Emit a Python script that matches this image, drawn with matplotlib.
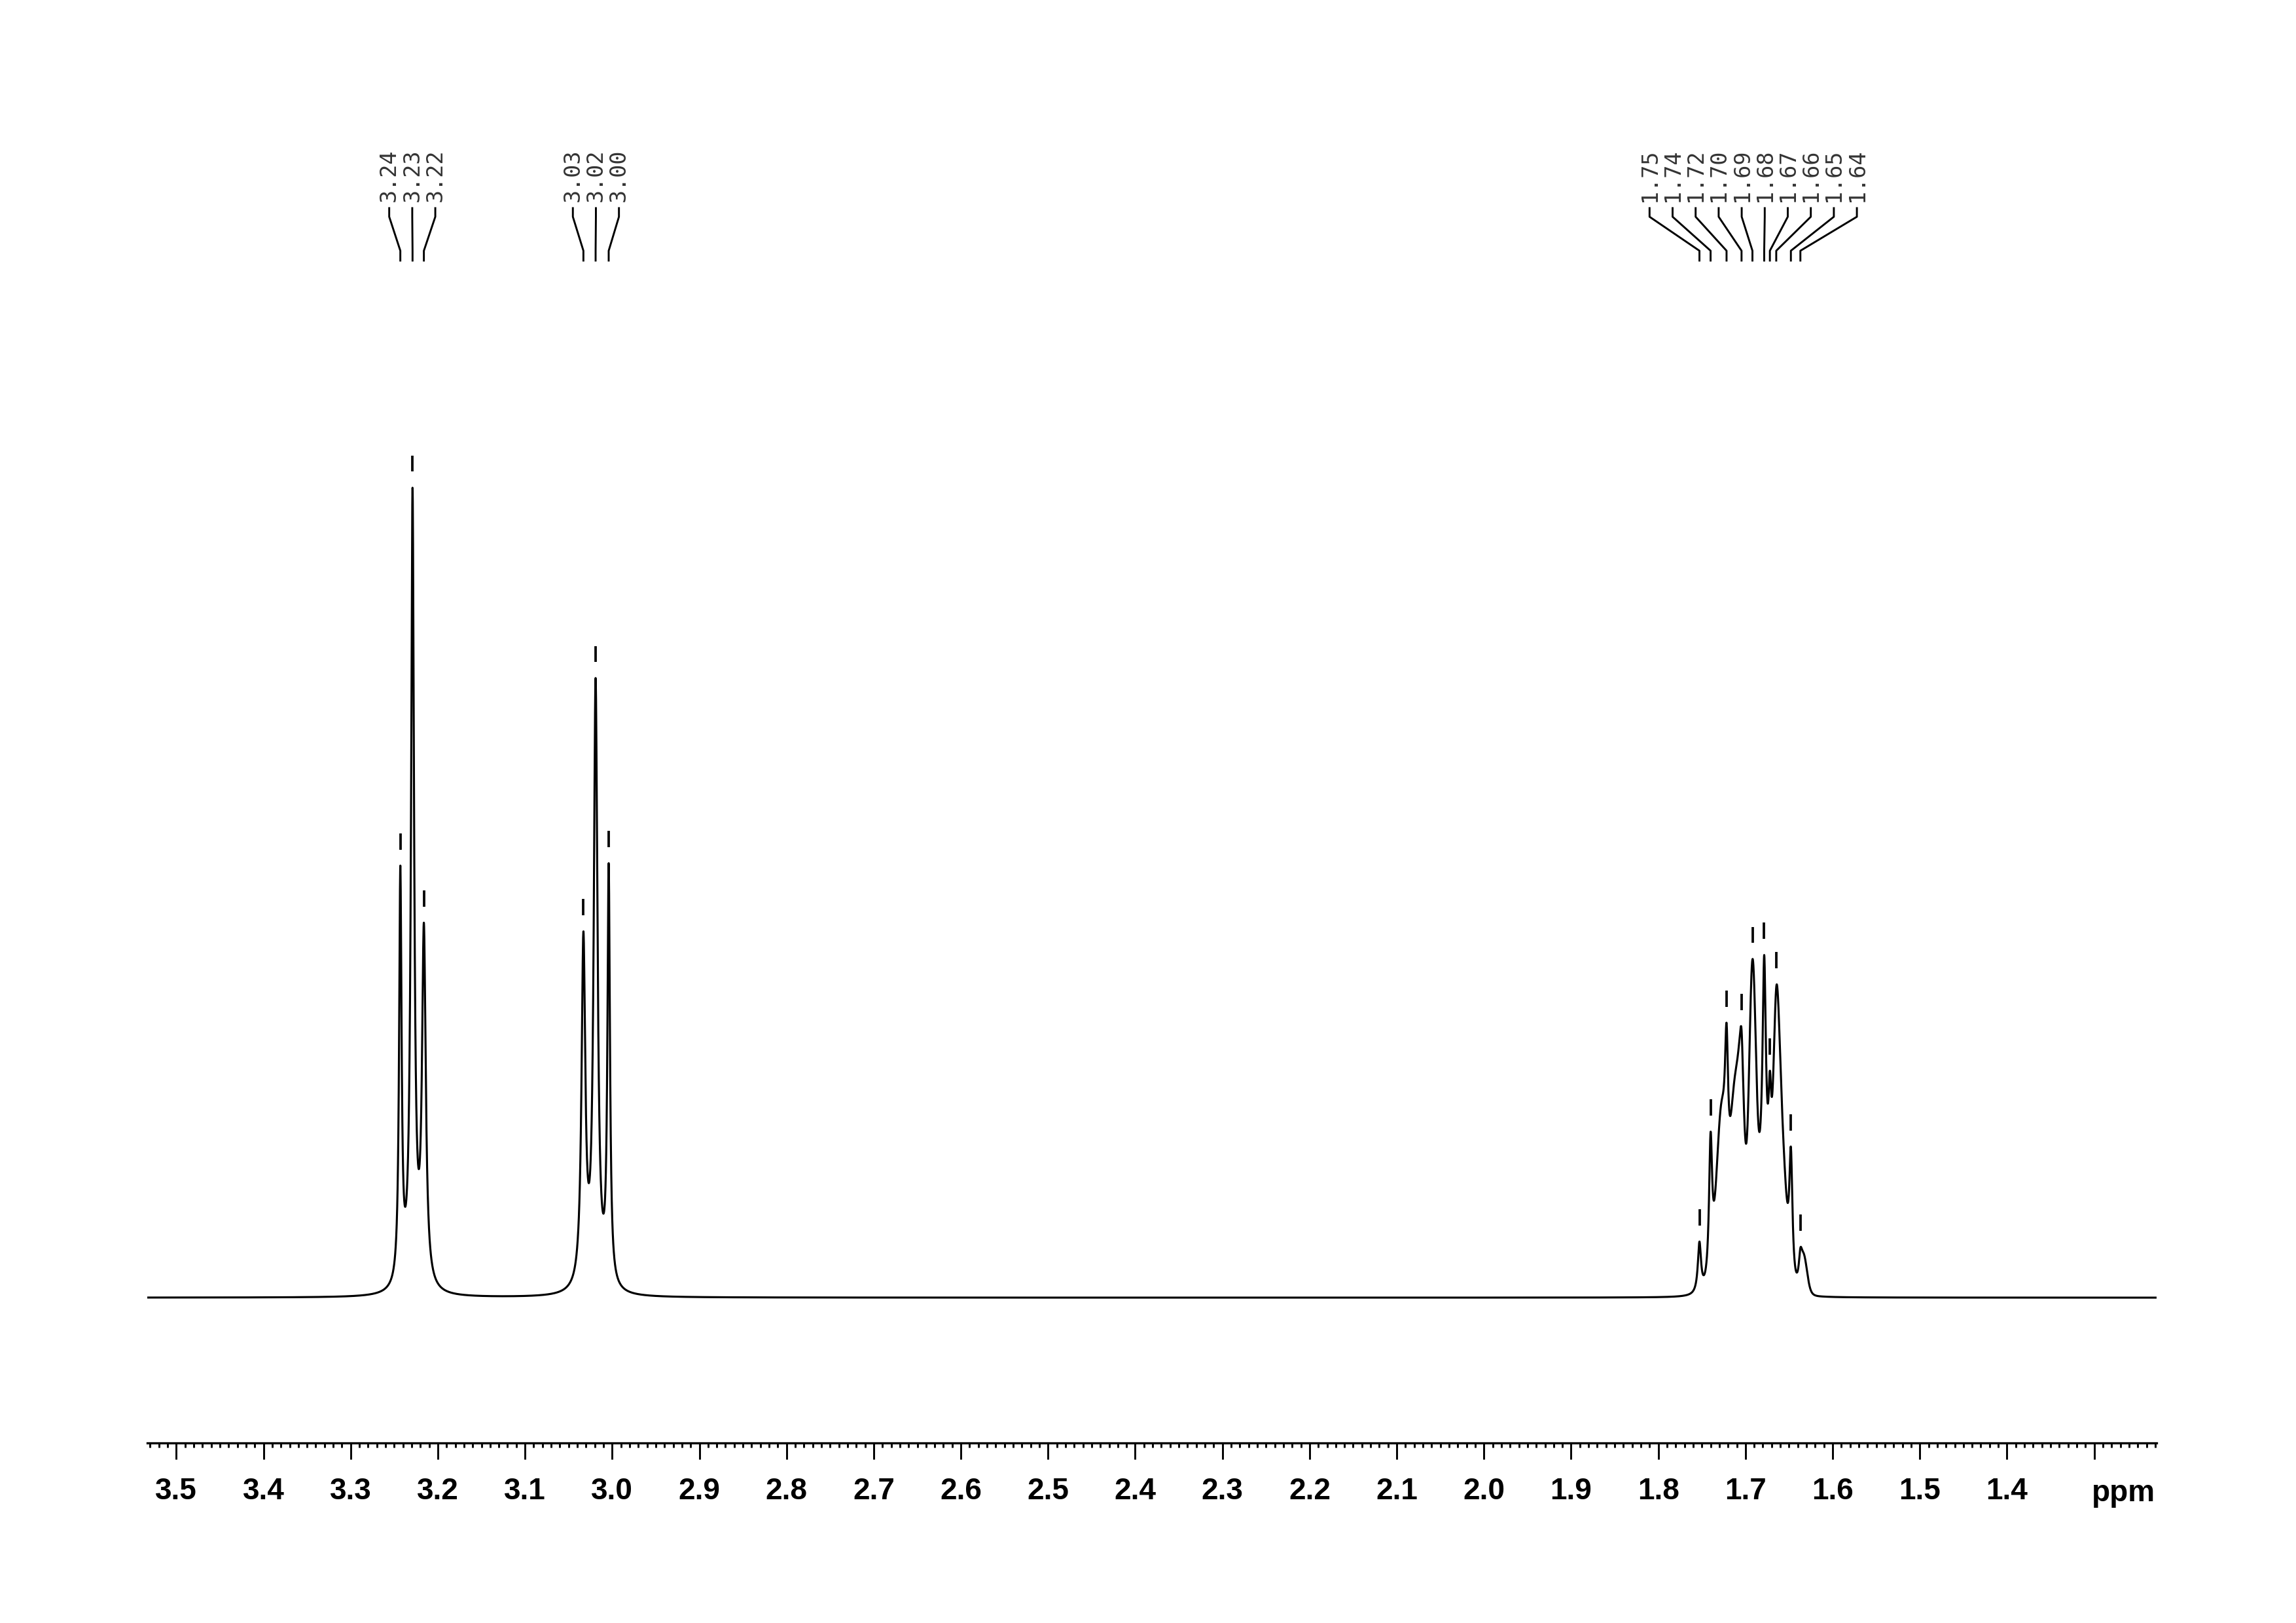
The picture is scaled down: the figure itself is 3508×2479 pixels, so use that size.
import numpy as np
import matplotlib
matplotlib.use('Agg')
import matplotlib.pyplot as plt
from matplotlib import font_manager as fm
from matplotlib.ticker import FixedLocator

# ---------------- data ----------------
# labelled peaks: chemical shift (ppm) and height above baseline (arb. units)
tripA_ppm = [3.243, 3.229, 3.216]
tripA_height = [295, 553, 256]
tripA_labels = ['3.24', '3.23', '3.22']

tripB_ppm = [3.033, 3.019, 3.004]
tripB_height = [248, 420, 297]
tripB_labels = ['3.03', '3.02', '3.00']

multi_ppm = [1.7528, 1.7400, 1.7217, 1.7045, 1.6920, 1.6785, 1.6720, 1.6647, 1.6479, 1.6370]
multi_height = [39, 114, 188, 183, 231, 234, 155, 212, 103, 34]
multi_labels = ['1.75', '1.74', '1.72', '1.70', '1.69', '1.68', '1.67', '1.66', '1.65', '1.64']

# unlabelled shoulders in the multiplet (ppm, height)
shoulder_ppm = [1.7275, 1.7120, 1.7066, 1.6595, 1.6330]
shoulder_height = [131, 152, 178, 153, 30]

# valleys / baseline points (ppm, height)
tvalley_ppm = [3.2360, 3.2225, 3.0260, 3.0115]
tvalley_height = [68, 90, 88, 62]
mvalley_ppm = [1.7600, 1.7465, 1.7335, 1.7150, 1.6980, 1.6850, 1.6750, 1.6690,
               1.6540, 1.6420, 1.6250]
mvalley_height = [4, 14, 86, 135, 113, 117, 136, 141, 79, 18, 5]

major_ticks = [3.5, 3.4, 3.3, 3.2, 3.1, 3.0, 2.9, 2.8, 2.7, 2.6, 2.5, 2.4, 2.3,
               2.2, 2.1, 2.0, 1.9, 1.8, 1.7, 1.6, 1.5, 1.4, 1.3]
major_labels = ['3.5', '3.4', '3.3', '3.2', '3.1', '3.0', '2.9', '2.8', '2.7', '2.6',
                '2.5', '2.4', '2.3', '2.2', '2.1', '2.0', '1.9', '1.8', '1.7', '1.6',
                '1.5', '1.4', '']
x_left, x_right = 3.5336, 1.2284

# ---------------- fit a line-shape model through the read points ----------------
tgt_pos = np.array(tripA_ppm + tripB_ppm + tvalley_ppm + multi_ppm + shoulder_ppm
                   + mvalley_ppm)
tgt_h = np.array(tripA_height + tripB_height + tvalley_height + multi_height
                 + shoulder_height + mvalley_height, float)

def lor(x, p, g):
    return g ** 2 / ((x - p) ** 2 + g ** 2)

def gau(x, p, s):
    return np.exp(-0.5 * ((x - p) / s) ** 2)

basis = []
for p in tripA_ppm + tripB_ppm:
    basis.append(lambda xx, p=p: lor(xx, p, 0.0017))
    basis.append(lambda xx, p=p: lor(xx, p, 0.0026))
for p in multi_ppm + shoulder_ppm:
    basis.append(lambda xx, p=p: lor(xx, p, 0.0022))
    basis.append(lambda xx, p=p: gau(xx, p, 0.0035))
    basis.append(lambda xx, p=p: gau(xx, p, 0.0055))
for p in mvalley_ppm[2:-2]:
    basis.append(lambda xx, p=p: gau(xx, p, 0.0080))


def nnls(A, b, tol=1e-9, max_outer=400):
    n = A.shape[1]
    P = np.zeros(n, bool)
    xs = np.zeros(n)
    wv = A.T @ (b - A @ xs)
    it = 0
    while (~P).any() and np.max(np.where(~P, wv, -np.inf)) > tol and it < max_outer:
        it += 1
        j = int(np.argmax(np.where(~P, wv, -np.inf)))
        P[j] = True
        while True:
            s = np.zeros(n)
            s[P] = np.linalg.lstsq(A[:, P], b, rcond=None)[0]
            if s[P].min() > 0:
                break
            mask = P & (s <= 0)
            alpha = np.min(xs[mask] / (xs[mask] - s[mask]))
            xs = xs + alpha * (s - xs)
            P &= xs > tol
            xs[~P] = 0
        xs = s
        wv = A.T @ (b - A @ xs)
    return xs

M = np.stack([bf(tgt_pos) for bf in basis], axis=1)
w = 1.0 / np.sqrt(tgt_h + 20.0)
a = nnls(M * w[:, None], tgt_h * w)

x = np.linspace(x_left, x_right, 16000)
y = np.zeros_like(x)
for ai, bf in zip(a, basis):
    if ai > 0:
        y += ai * bf(x)

# ---------------- fonts ----------------
names = {f.name for f in fm.fontManager.ttflist}
tick_font = 'Liberation Sans Narrow' if 'Liberation Sans Narrow' in names else 'Liberation Sans'

# ---------------- figure ----------------
W, H = 3508, 2479
fig = plt.figure(figsize=(W / 300, H / 300), dpi=300)
ax_l, ax_r = 224.6 / W, 3295 / W
ax_b, ax_t = (H - 2204) / H, (H - 100) / H
ax = fig.add_axes([ax_l, ax_b, ax_r - ax_l, ax_t - ax_b])
ax.set_xlim(x_left, x_right)
ax.set_ylim(-99.2, 841.3)

ax.plot(x, y, color='black', lw=0.75)

for s in ['left', 'right', 'top']:
    ax.spines[s].set_visible(False)
ax.spines['bottom'].set_linewidth(0.8)
ax.set_yticks([])
ax.xaxis.set_major_locator(FixedLocator(major_ticks))
ax.set_xticklabels(major_labels)
ax.xaxis.set_minor_locator(FixedLocator(np.round(np.arange(3.53, 1.225, -0.01), 2)))
ax.tick_params(axis='x', which='major', direction='out', length=6, width=0.7, pad=6.5,
               labelsize=11)
ax.tick_params(axis='x', which='minor', direction='out', length=1.7, width=0.7)
for lab in ax.get_xticklabels():
    lab.set_fontfamily(tick_font)
    lab.set_fontweight('bold')

fig.text(3293 / W, (H - 2293) / H, 'ppm', ha='right', va='baseline',
         fontsize=11, fontweight='bold', fontfamily=tick_font)

# ---------------- peak markers and labels ----------------
spacing = 35.2 / 1332.0  # label spacing in ppm
groups = [(tripA_ppm, tripA_labels), (tripB_ppm, tripB_labels), (multi_ppm, multi_labels)]
for ppms, labels in groups:
    n = len(ppms)
    center = np.mean(ppms)
    lxs = center + ((n - 1) / 2 - np.arange(n)) * spacing
    for p, lab, lx in zip(ppms, labels, lxs):
        m = np.abs(x - p) < 0.0012
        top = y[m].max()
        ax.plot([p, p], [top + 11, top + 22], color='black', lw=0.9,
                solid_capstyle='butt', clip_on=False)
        ax.plot([lx, lx, p, p], [743.9, 738.0, 714.8, 708.1], color='black', lw=0.7,
                clip_on=False)
        ax.text(lx, 748.3, lab, rotation=90, ha='center', va='bottom',
                fontsize=8, fontfamily='DejaVu Sans Mono', color='#333333',
                clip_on=False)

fig.savefig('out.png', dpi=300)
